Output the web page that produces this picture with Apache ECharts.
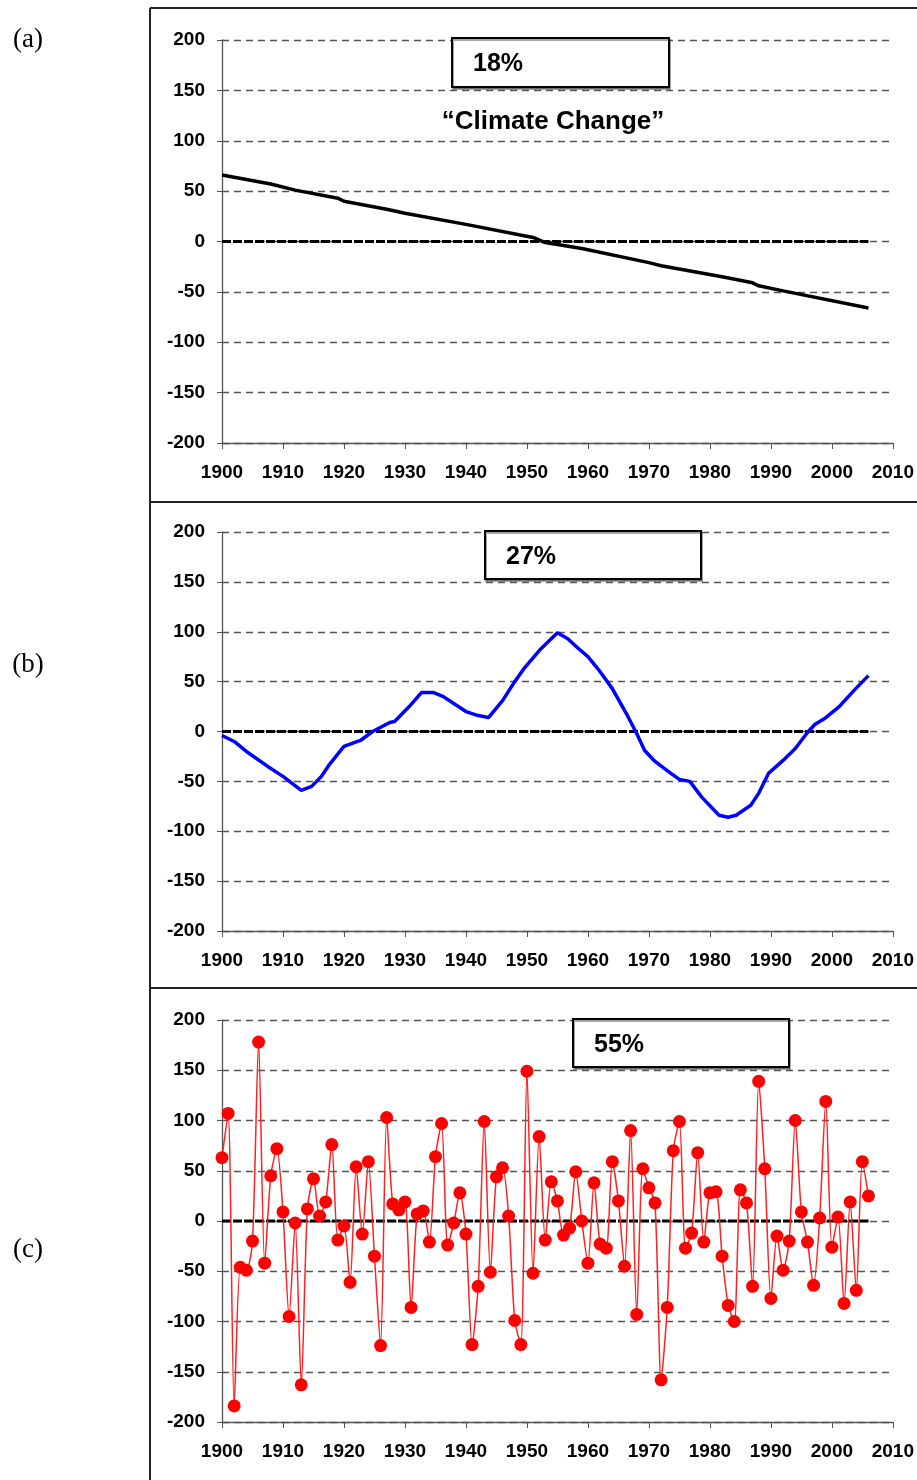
<!DOCTYPE html>
<html>
<head>
<meta charset="utf-8">
<script src="https://cdn.jsdelivr.net/npm/echarts@6/dist/echarts.min.js"></script>
<style>
  html,body{margin:0;padding:0;background:#fff;}
  #main{width:917px;height:1480px;}
</style>
</head>
<body>
<div id="main"></div>
<script>
// panel (a): trend line
var aYears = [1900,1908,1912,1919,1920,1927,1930,1940,1951,1953,1959,1970,1972,1982,1987,1988,1992,2006];
var aValues = [66,57,51,43,40,32,28,17,4,-1,-7,-21,-24,-35,-41,-44,-49,-66];

// panel (b): blue oscillation
var bYears = [1900,1902,1904,1907.5,1910,1913,1914.7,1916.3,1917.5,1920,1922.7,1924.7,1927.5,1928.3,1930.7,1932.7,1934.7,1936.3,1938,1940,1942,1943.7,1946,1948,1949.5,1952.3,1955,1956.7,1958.3,1960,1962,1964,1966.3,1968,1969.3,1971,1973.6,1975,1976.7,1978.7,1981.5,1983,1984.3,1986.7,1988,1989.6,1992,1994,1996,1997.2,1998.8,2001.2,2003.6,2006];
var bValues = [-4,-10,-20,-35,-45,-59,-55,-45,-34,-15,-9,0,9,10,25,39,39,35,28,20,16,14,31,50,63,83,99,93,84,75,60,43,18,-2,-19,-30,-42,-48,-50,-66,-84,-86,-84,-74,-62,-42,-29,-17,-1,7,13,25,41,56];

// panel (c): yearly residuals 1900-2006
var cStartYear = 1900;
var cValues = [63,107,-184,-46,-49,-20,178,-42,45,72,
    9,-95,-2,-163,12,42,5,19,76,-19,
    -5,-61,54,-13,59,-35,-124,103,17,11,
    19,-86,7,10,-21,64,97,-24,-2,28,
    -13,-123,-65,99,-51,44,53,5,-99,-123,
    149,-52,84,-19,39,20,-14,-7,49,0,
    -42,38,-23,-27,59,20,-45,90,-93,52,
    33,18,-158,-86,70,99,-27,-12,68,-21,
    28,29,-35,-84,-100,31,18,-65,139,52,
    -77,-15,-49,-20,100,9,-21,-64,3,119,
    -26,4,-82,19,-69,59,25];

var panelLabels = ['(a)','(b)','(c)'];
var percentLabels = ['18%','27%','55%'];
var yTicks = {min:-200,max:200,interval:50};
var xTicks = {min:1900,max:2010,interval:10};

function pairs(xs, ys){
    var out=[];
    for(var i=0;i<xs.length;i++){ out.push([xs[i],ys[i]]); }
    return out;
}
var cData=[];
for(var i=0;i<cValues.length;i++){ cData.push([cStartYear+i,cValues[i]]); }
var zeroData=[[1900,0],[2006,0]];

var gridTops=[40,532,1020];
var gridHeights=[403,399,402];
var labelFont='Liberation Sans, Arial, sans-serif';

var grids=[],xAxes=[],yAxes=[];
for(var g=0;g<3;g++){
    grids.push({left:222,top:gridTops[g],width:672,height:gridHeights[g],containLabel:false});
    xAxes.push({
        type:'value',gridIndex:g,min:xTicks.min,max:xTicks.max,interval:xTicks.interval,
        axisLine:{onZero:false,lineStyle:{color:'#555',width:1.3}},
        axisTick:{show:true,inside:false,length:6,lineStyle:{color:'#555'}},
        axisLabel:{margin:20,color:'#000',fontWeight:'bold',fontSize:19,fontFamily:labelFont,
            formatter:function(v){return String(v);}},
        splitLine:{show:false}
    });
    yAxes.push({
        type:'value',gridIndex:g,min:yTicks.min,max:yTicks.max,interval:yTicks.interval,
        axisLine:{show:true,onZero:false,lineStyle:{color:'#555',width:1.3}},
        axisTick:{show:true,inside:false,length:5,lineStyle:{color:'#555'}},
        axisLabel:{margin:17,color:'#000',fontWeight:'bold',fontSize:19,fontFamily:labelFont},
        splitLine:{show:true,lineStyle:{color:'#555',type:[7,5],width:1.3}}
    });
}

var zeroStyle={color:'#000',width:3,type:[9,2]};
var series=[];
for(var g=0;g<3;g++){
    series.push({type:'line',xAxisIndex:g,yAxisIndex:g,data:zeroData,symbol:'none',
        lineStyle:zeroStyle,silent:true,z:2});
}
series.push({type:'line',xAxisIndex:0,yAxisIndex:0,data:pairs(aYears,aValues),symbol:'none',
    lineStyle:{color:'#000',width:3.5},z:3});
series.push({type:'line',xAxisIndex:1,yAxisIndex:1,data:pairs(bYears,bValues),symbol:'none',
    lineStyle:{color:'#0000ff',width:3.5},z:3});
series.push({type:'line',xAxisIndex:2,yAxisIndex:2,data:cData,symbol:'circle',symbolSize:13,
    smooth:0.25,itemStyle:{color:'#ff0000'},lineStyle:{color:'#ff2020',width:1.5},z:3});

// frame, boxes and labels
var graphic=[];
var frameStyle={stroke:'#222',lineWidth:2};
graphic.push({type:'line',shape:{x1:150,y1:8,x2:150,y2:1480},style:frameStyle,z:10});
graphic.push({type:'line',shape:{x1:150,y1:8,x2:917,y2:8},style:frameStyle,z:10});
graphic.push({type:'line',shape:{x1:150,y1:502,x2:917,y2:502},style:frameStyle,z:10});
graphic.push({type:'line',shape:{x1:150,y1:988,x2:917,y2:988},style:frameStyle,z:10});

var boxes=[{x:452,y:38,w:217,h:49},{x:485,y:531,w:216,h:48},{x:573,y:1019,w:216,h:48}];
for(var k=0;k<3;k++){
    graphic.push({type:'rect',shape:{x:boxes[k].x,y:boxes[k].y,width:boxes[k].w,height:boxes[k].h},
        style:{fill:'#fff',stroke:'#000',lineWidth:2,shadowColor:'rgba(0,0,0,0.35)',shadowOffsetX:1,shadowOffsetY:2},z:20});
    graphic.push({type:'text',x:boxes[k].x+21,y:boxes[k].y+boxes[k].h/2+2,
        style:{text:percentLabels[k],fill:'#000',font:'bold 25px '+labelFont,textVerticalAlign:'middle'},z:21});
}
graphic.push({type:'text',x:553,y:122,
    style:{text:'\u201cClimate Change\u201d',fill:'#000',font:'bold 26px '+labelFont,textAlign:'center',textVerticalAlign:'middle'},z:21});

var labelYs=[40,665,1250];
for(var k=0;k<3;k++){
    graphic.push({type:'text',x:28,y:labelYs[k],
        style:{text:panelLabels[k],fill:'#000',font:'27px Liberation Serif, Times New Roman, serif',textAlign:'center',textVerticalAlign:'middle'},z:21});
}

var option={
    animation:false,
    backgroundColor:'#fff',
    grid:grids,
    xAxis:xAxes,
    yAxis:yAxes,
    series:series,
    graphic:graphic
};
var myChart=echarts.init(document.getElementById('main'));
myChart.setOption(option);
</script>
</body>
</html>
